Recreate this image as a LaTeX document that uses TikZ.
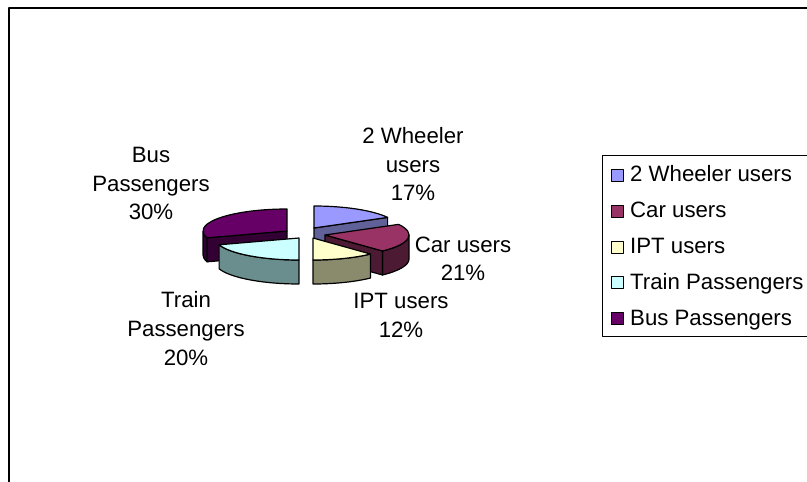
\documentclass[tikz,border=0pt]{standalone}
\usepackage{fontspec}
\setmainfont{Liberation Sans}
\definecolor{twtop}{HTML}{9999FF}
\definecolor{twside}{HTML}{616199}
\definecolor{cartop}{HTML}{993366}
\definecolor{carside}{HTML}{4D1A33}
\definecolor{ipttop}{HTML}{FFFFCC}
\definecolor{iptside}{HTML}{8A8A6C}
\definecolor{trtop}{HTML}{CCFFFF}
\definecolor{trside}{HTML}{6A8E8E}
\definecolor{bustop}{HTML}{660066}
\definecolor{busside}{HTML}{330033}
\begin{document}
\begin{tikzpicture}[x=1bp,y=-1bp,line join=round,
  face/.style={draw=black,line width=1.2bp},
  rad/.style={x radius=84,y radius=22},
  lbl/.style={font=\fontsize{22.3}{29}\selectfont,align=center,inner sep=0pt,anchor=base},
  leg/.style={font=\fontsize{22.3}{29}\selectfont,inner sep=0pt,anchor=base west},
  keybox/.style={draw=black,line width=0.9bp,minimum width=12bp,minimum height=12bp,inner sep=0pt,anchor=south}]
\useasboundingbox (0,0) rectangle (807,482);
\clip (0,0) rectangle (807,482);
\fill[white] (0,0) rectangle (807,482);
% chart frame
\draw[line width=2bp] (9,500) -- (9,8) -- (830,8);
% ---- Bus Passengers (90..198)
\path[face,fill=busside] (203,231) arc[start angle=180,end angle=162,rad] -- ++(0,24) arc[start angle=162,end angle=180,rad] -- cycle;
\path[face,fill=busside] (287,231) -- (207.1,237.8) -- (207.1,261.8) -- (287,255) -- cycle;
\path[face,fill=bustop] (287,231) -- (287,209) arc[start angle=-90,end angle=-198,rad] -- cycle;
% ---- 2 Wheeler users (28.8..90)
\path[face,fill=twside] (314,228) -- (387.6,217.4) -- (387.6,241.4) -- (314,252) -- cycle;
\path[face,fill=twtop] (314,228) -- (387.6,217.4) arc[start angle=-28.8,end angle=-90,rad] -- cycle;
% ---- Car users (-46.8..28.8)
\path[face,fill=carside] (382.5,251) arc[start angle=46.8,end angle=0,rad] -- ++(0,24) arc[start angle=0,end angle=46.8,rad] -- cycle;
\path[face,fill=carside] (325,235) -- (382.5,251) -- (382.5,275) -- (325,259) -- cycle;
\path[face,fill=cartop] (325,235) -- (382.5,251) arc[start angle=46.8,end angle=-28.8,rad] -- cycle;
% ---- Train Passengers (198..270)
\path[face,fill=trside] (219.1,244.8) arc[start angle=162,end angle=90,rad] -- ++(0,24) arc[start angle=90,end angle=162,rad] -- cycle;
\path[face,fill=trtop] (299,238) -- (219.1,244.8) arc[start angle=162,end angle=90,rad] -- cycle;
% ---- IPT users (-90..-46.8)
\path[face,fill=iptside] (313,260) arc[start angle=90,end angle=46.8,rad] -- ++(0,24) arc[start angle=46.8,end angle=90,rad] -- cycle;
\path[face,fill=ipttop] (313,238) -- (313,260) arc[start angle=90,end angle=46.8,rad] -- cycle;
% ---- data labels (anchor = baseline of last line)
\node[lbl] (lbus) at (151,220) {Bus\\Passengers\\30\%};
\node[lbl] (ltw) at (413,201) {2 Wheeler\\users\\17\%};
\node[lbl] (lcar) at (463,281) {Car users\\21\%};
\node[lbl] (lipt) at (401,337) {IPT users\\12\%};
\node[lbl] (ltr) at (186,365) {Train\\Passengers\\20\%};
% ---- legend
\draw[line width=1bp] (602,156) rectangle (840,336);
\node[keybox,fill=twtop] (k1) at (617,182) {};
\node[leg] (t1) at (630,182) {2 Wheeler users};
\node[keybox,fill=cartop] (k2) at (617,217.8) {};
\node[leg] (t2) at (630,217.8) {Car users};
\node[keybox,fill=ipttop] (k3) at (617,253.6) {};
\node[leg] (t3) at (630,253.6) {IPT users};
\node[keybox,fill=trtop] (k4) at (617,289.4) {};
\node[leg] (t4) at (630,289.4) {Train Passengers};
\node[keybox,fill=bustop] (k5) at (617,325.2) {};
\node[leg] (t5) at (630,325.2) {Bus Passengers};
\end{tikzpicture}
\end{document}
